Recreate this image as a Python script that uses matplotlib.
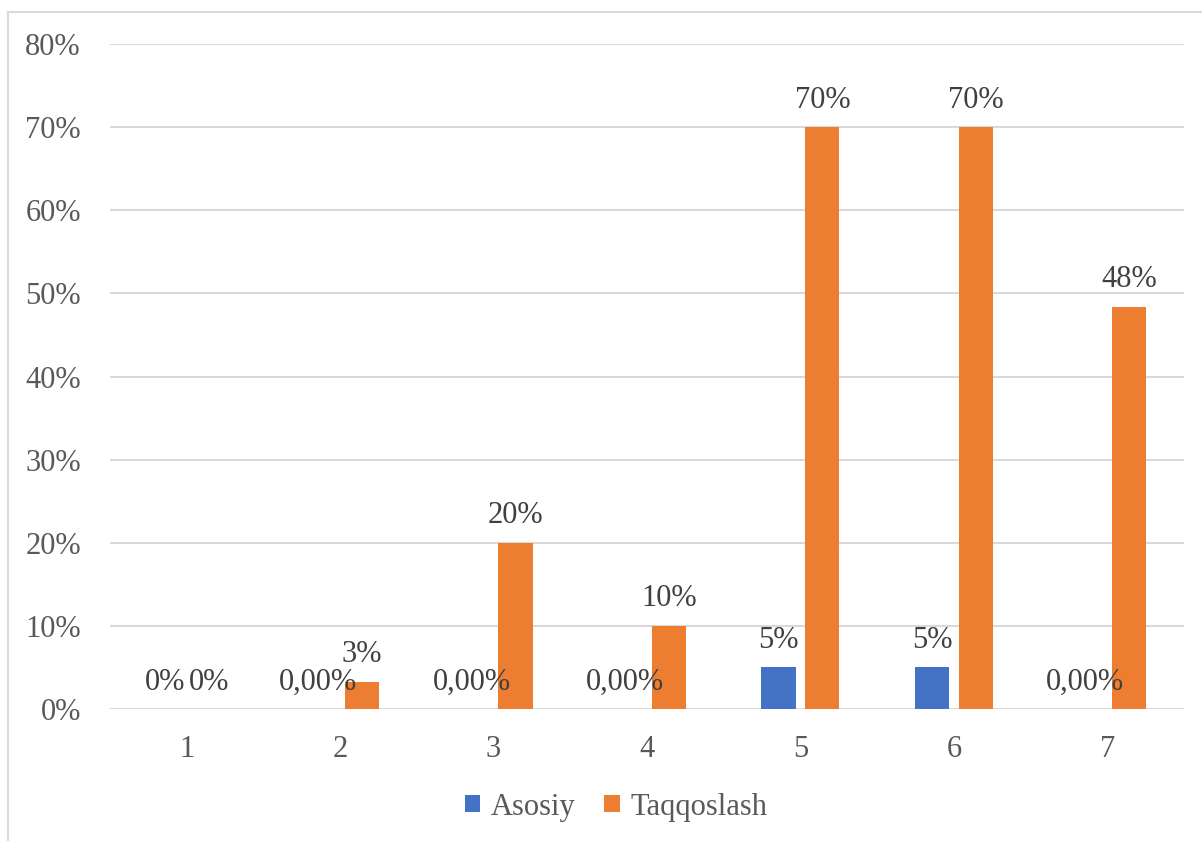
import matplotlib.pyplot as plt
import numpy as np

categories = ['1', '2', '3', '4', '5', '6', '7']
asosiy = [0.0, 0.0, 0.0, 0.0, 5.0, 5.0, 0.0]
taqqoslash = [0.0, 3.3, 20.0, 10.0, 70.0, 70.0, 48.4]
asosiy_labels = ['0%', '0,00%', '0,00%', '0,00%', '5%', '5%', '0,00%']
taqqoslash_labels = ['0%', '3%', '20%', '10%', '70%', '70%', '48%']
y_ticks = [0, 10, 20, 30, 40, 50, 60, 70, 80]

plt.rcParams['font.family'] = ['Liberation Serif', 'DejaVu Serif']

fig = plt.figure(figsize=(12.02, 8.41), dpi=100)
ax = fig.add_axes([110 / 1202, 1 - 709 / 841, 1074 / 1202, 665 / 841])

x = np.arange(len(categories))
w = 0.222
off = 0.143
b1 = ax.bar(x - off, asosiy, w, color='#4472C4', label='Asosiy', zorder=3)
b2 = ax.bar(x + off, taqqoslash, w, color='#ED7D31', label='Taqqoslash', zorder=3)

for bars, labels in [(b1, asosiy_labels), (b2, taqqoslash_labels)]:
    for rect, lab in zip(bars, labels):
        ax.annotate(lab, (rect.get_x() + rect.get_width() / 2, rect.get_height()),
                    xytext=(0, 9), textcoords='offset points', ha='center', va='bottom',
                    fontsize=22, color='#404040', zorder=4)

ax.set_xlim(-0.5, len(categories) - 0.5)
ax.set_ylim(0, 80)
ax.set_yticks(y_ticks)
ax.set_yticklabels([f'{t}%' for t in y_ticks])
ax.set_xticks(x)
ax.set_xticklabels(categories)
ax.tick_params(axis='both', length=0, labelsize=22, labelcolor='#595959')
ax.tick_params(axis='y', pad=21)
ax.tick_params(axis='x', pad=19)
ax.grid(axis='y', color='#d9d9d9', linewidth=1.5, zorder=0)
for s in ax.spines.values():
    s.set_visible(False)

pos = ax.get_position()
ax.legend(loc='center', bbox_to_anchor=((616 - 110) / 1074, (1 - 807 / 841 - pos.y0) / pos.height),
          ncol=2, frameon=False, fontsize=22, handlelength=0.5, handleheight=0.5,
          handletextpad=0.35, columnspacing=0.95, labelcolor='#595959')

# chart border
fig.add_artist(plt.Line2D([8 / 1202, 8 / 1202], [0, 1 - 12 / 841], color='#d9d9d9', linewidth=1.5))
fig.add_artist(plt.Line2D([8 / 1202, 1], [1 - 12 / 841, 1 - 12 / 841], color='#d9d9d9', linewidth=1.5))

fig.savefig('out.png', dpi=100, facecolor='white')
